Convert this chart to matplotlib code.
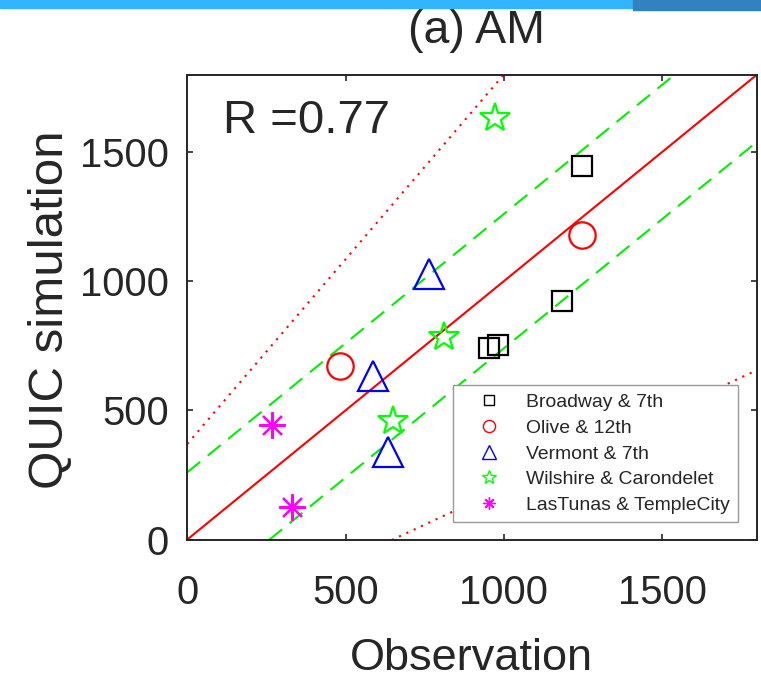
import numpy as np
import matplotlib
matplotlib.use("Agg")
import matplotlib.pyplot as plt
from matplotlib import font_manager
from matplotlib.patches import Rectangle

# Values
BROADWAY_OBS = [1248, 1185, 954, 982]
BROADWAY_SIM = [1447, 925, 743, 752]
OLIVE_OBS = [1246, 482]
OLIVE_SIM = [1180, 670]
VERMONT_OBS = [763, 588, 635]
VERMONT_SIM = [1029, 632, 338]
WILSHIRE_OBS = [973, 811, 649]
WILSHIRE_SIM = [1632, 783, 459]
LASTUNAS_OBS = [267, 332]
LASTUNAS_SIM = [444, 127]

SITE_NAMES = ["Broadway & 7th", "Olive & 12th", "Vermont & 7th",
              "Wilshire & Carondelet", "LasTunas & TempleCity"]

R_VALUE = 0.77
BAND_OFFSET = 260        # green dashed lines: y = x +/- offset
DOT_SLOPE = 0.43         # red dotted lines: y = x +/- (slope*x + intercept)
DOT_INTERCEPT = 370
AX_MAX = 1800
TICKS = [0, 500, 1000, 1500]

TEXT_COLOR = "#262626"

names = {f.name for f in font_manager.fontManager.ttflist}
NARROW = "Liberation Sans Narrow" if "Liberation Sans Narrow" in names else "Liberation Sans"
REGULAR = "Liberation Sans"
# the reference text is squeezed sideways; without a narrow face use slightly smaller sizes
SHRINK = 1.0 if NARROW != REGULAR else 0.93

plt.rcParams["font.family"] = [NARROW, "DejaVu Sans"]
plt.rcParams["lines.scale_dashes"] = False


def draw_reference_lines(ax):
    x = np.array([0, AX_MAX], dtype=float)
    ax.plot(x, x, color="#ff0000", lw=1.5, zorder=2)
    ax.plot(x, x + BAND_OFFSET, color="#00f000", lw=1.5, dashes=(12, 7), zorder=2)
    ax.plot(x, x - BAND_OFFSET, color="#00f000", lw=1.5, dashes=(12, 7), zorder=2)
    ax.plot(x, x + DOT_SLOPE * x + DOT_INTERCEPT, color="#ff0000", lw=1.5,
            dashes=(1.5, 4.3), zorder=2)
    ax.plot(x, x - DOT_SLOPE * x - DOT_INTERCEPT, color="#ff0000", lw=1.5,
            dashes=(1.5, 4.3), zorder=2)


def draw_sites(ax):
    series = [
        (BROADWAY_OBS, BROADWAY_SIM, "s", "#000000", 15),
        (OLIVE_OBS, OLIVE_SIM, "o", "#ff0000", 19),
        (VERMONT_OBS, VERMONT_SIM, "^", "#0000ff", 21),
        (WILSHIRE_OBS, WILSHIRE_SIM, "*", "#00ff00", 22),
        (LASTUNAS_OBS, LASTUNAS_SIM, (8, 2, 0), "#ff00ff", 19),
    ]
    handles = []
    for (xs, ys, m, c, ms), name in zip(series, SITE_NAMES):
        h, = ax.plot(xs, ys, linestyle="none", marker=m, markersize=ms,
                     markerfacecolor="none", markeredgecolor=c,
                     markeredgewidth=1.6, label=name, zorder=3)
        handles.append(h)
    return handles


def main():
    fig = plt.figure(figsize=(7.61, 6.79), dpi=100)
    ax = fig.add_axes([0.2461, 0.2054, 0.7487, 0.6848])

    draw_reference_lines(ax)
    handles = draw_sites(ax)

    ax.set_xlim(0, AX_MAX)
    ax.set_ylim(0, AX_MAX)
    ax.set_xticks(TICKS)
    ax.set_yticks(TICKS)
    ax.tick_params(direction="in", top=True, right=True, length=4.5, width=1.2,
                   colors=TEXT_COLOR, labelsize=31 * SHRINK)
    ax.tick_params(axis="x", pad=25)
    ax.tick_params(axis="y", pad=13)
    for s in ax.spines.values():
        s.set_linewidth(1.4)
        s.set_color(TEXT_COLOR)

    ax.set_xlabel("Observation", fontsize=36 * SHRINK * 0.97, color=TEXT_COLOR)
    ax.xaxis.set_label_coords(0.499, -0.212)
    ax.set_ylabel("QUIC simulation", fontsize=35.5, color=TEXT_COLOR,
                  family=[REGULAR, "DejaVu Sans"])
    ax.yaxis.set_label_coords(-0.2, 0.495)

    ax.text(0.063, 0.874, f"R ={R_VALUE:.2f}", transform=ax.transAxes,
            fontsize=34, color=TEXT_COLOR, ha="left", va="baseline")

    leg = ax.legend(handles=handles, loc="lower right",
                    bbox_to_anchor=(0.9666, 0.0376), borderaxespad=0,
                    fontsize=15 * SHRINK, markerscale=0.46, handlelength=2.9,
                    handletextpad=0.45, labelspacing=0.42, borderpad=0.42,
                    fancybox=False, framealpha=1, edgecolor="#9a9a9a")
    leg.get_frame().set_linewidth(1.0)
    for h in leg.legend_handles:
        h.set_markeredgewidth(1.0)
    for t in leg.get_texts():
        t.set_color(TEXT_COLOR)

    fig.text(477 / 761, 1 - 43 / 679, "(a) AM", fontsize=35 * SHRINK * 1.03,
             color=TEXT_COLOR, ha="center", va="baseline")

    # coloured strips along the top edge
    fig.patches.append(Rectangle((0, 1 - 8 / 679), 1, 8 / 679,
                                 transform=fig.transFigure, color="#33b4fe",
                                 zorder=5))
    fig.patches.append(Rectangle((633 / 761, 1 - 10 / 679), 128 / 761, 10 / 679,
                                 transform=fig.transFigure, color="#3282bf",
                                 zorder=6))

    fig.savefig("out.png", dpi=100)


if __name__ == "__main__":
    main()
